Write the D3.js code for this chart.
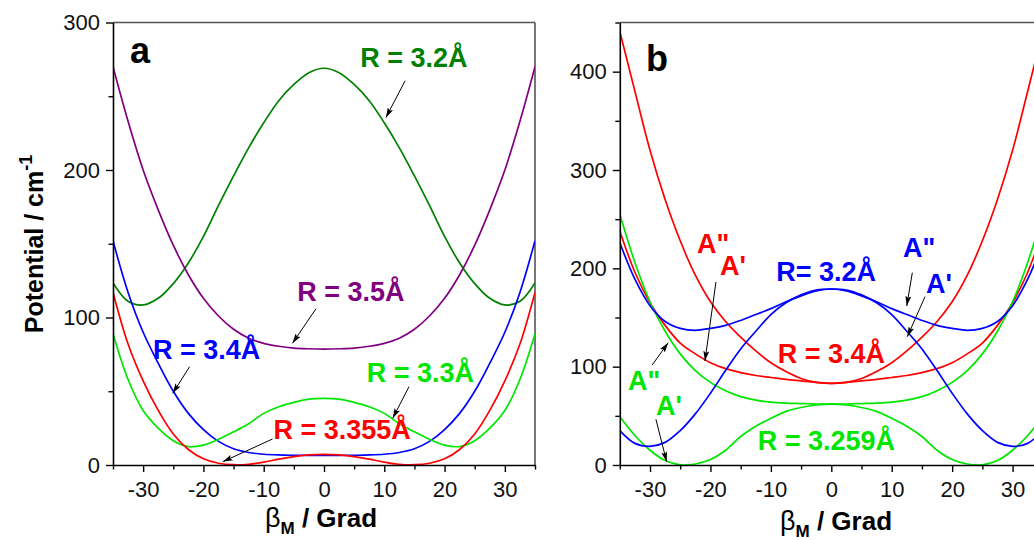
<!DOCTYPE html>
<html>
<head>
<meta charset="utf-8">
<script src="https://cdn.jsdelivr.net/npm/d3@7"></script>
<style>
  body { margin: 0; background: #fff; }
  svg { display: block; }
  text { font-family: "Liberation Sans", Arial, Helvetica, sans-serif; }
</style>
</head>
<body>
<svg id="chart" width="1034" height="540"></svg>
<script>
// Torsion angle grid (degrees)
const beta = [-35, -32.5, -30, -27.5, -25, -22.5, -20, -17.5, -15, -12.5, -10, -7.5, -5, -2.5, 0,
              2.5, 5, 7.5, 10, 12.5, 15, 17.5, 20, 22.5, 25, 27.5, 30, 32.5, 35];

// Panel a: potential curves (cm^-1) for several R
const aR320 = [123.5, 111, 108.5, 113, 123, 137, 155, 176, 196, 215, 232, 247, 258, 266, 269,
               266, 258, 247, 232, 215, 196, 176, 155, 137, 123, 113, 108.5, 111, 123.5];
const aR350 = [270, 233, 200, 173, 149, 129, 113, 101, 92, 86, 82.5, 80.5, 79.3, 78.8, 78.6,
               78.8, 79.3, 80.5, 82.5, 86, 92, 101, 113, 129, 149, 173, 200, 233, 270];
const aR340 = [152, 117, 90, 69, 50, 35, 24, 16, 11, 8.5, 7.3, 6.8, 6.6, 6.5, 6.5,
               6.5, 6.6, 6.8, 7.3, 8.5, 11, 16, 24, 35, 50, 69, 90, 117, 152];
const aR330 = [89, 58, 37, 25, 16.5, 12.5, 13.5, 17.5, 22.5, 28, 35, 39.5, 42.5, 44.7, 45.2,
               44.7, 42.5, 39.5, 35, 28, 22.5, 17.5, 13.5, 12.5, 16.5, 25, 37, 58, 89];
const aR3355 = [117, 82, 57, 37, 21, 10.5, 4.2, 1.2, 0.2, 0.5, 2, 4, 5.7, 6.8, 7.2,
                6.8, 5.7, 4, 2, 0.5, 0.2, 1.2, 4.2, 10.5, 21, 37, 57, 82, 117];

// Panel b: A' and A'' states
const bR340A2 = [441, 380, 320, 270, 228, 193, 166, 146, 130, 116, 104, 95, 88, 84, 83,
                 84, 88, 95, 104, 116, 130, 146, 166, 193, 228, 270, 320, 380, 441];
const bR340A1 = [238, 196, 165, 142, 124, 113, 104, 98, 94, 91, 89, 87, 85.5, 84, 83,
                 84, 85.5, 87, 89, 91, 94, 98, 104, 113, 124, 142, 165, 196, 238];
const bR320A2 = [226, 189, 162, 146, 139, 137, 139, 142, 147, 153, 159, 166, 172, 177, 179,
                 177, 172, 166, 159, 153, 147, 142, 139, 137, 139, 146, 162, 189, 226];
const bR320A1 = [35, 22, 19, 23, 35, 52, 73, 96, 118, 136, 153, 165, 173, 178, 179,
                 178, 173, 165, 153, 136, 118, 96, 73, 52, 35, 23, 19, 22, 35];
const bR3259A2 = [255, 206, 166, 136, 113, 96, 84, 75.5, 69.5, 66, 64, 63, 62.5, 62, 62,
                  62, 62.5, 63, 64, 66, 69.5, 75.5, 84, 96, 113, 136, 166, 206, 255];
const bR3259A1 = [49, 30, 15, 4.5, 0.2, 1, 5.5, 15, 29, 39.5, 47.5, 54.5, 58.5, 61, 62,
                  61, 58.5, 54.5, 47.5, 39.5, 29, 15, 5.5, 1, 0.2, 4.5, 15, 30, 49];

// Tick values
const xTicks = [-30, -20, -10, 0, 10, 20, 30];
const xMinor = [-35, -25, -15, -5, 5, 15, 25, 35];
const yTicksA = [0, 100, 200, 300];
const yMinorA = [50, 150, 250];
const yTicksB = [0, 100, 200, 300, 400];
const yMinorB = [50, 150, 250, 350, 450];

// Series tables
const seriesA = [
  { values: aR320, color: "#008000" },
  { values: aR350, color: "#800080" },
  { values: aR340, color: "#0000ff" },
  { values: aR330, color: "#00e600" },
  { values: aR3355, color: "#ff0000" }
];
const seriesB = [
  { values: bR340A2, color: "#ff0000" },
  { values: bR340A1, color: "#ff0000" },
  { values: bR3259A2, color: "#00e600" },
  { values: bR3259A1, color: "#00e600" },
  { values: bR320A2, color: "#0000ff" },
  { values: bR320A1, color: "#0000ff" }
];

// Labels: [text, colour, beta, value, anchor]
const labelsA = [
  ["R = 3.2Å", "#008000", 6.0, 270, "start"],
  ["R = 3.5Å", "#800080", -4.45, 111.2, "start"],
  ["R = 3.4Å", "#0000ff", -28.38, 71.7, "start"],
  ["R = 3.3Å", "#00e600", 7.1, 56.5, "start"],
  ["R = 3.355Å", "#ff0000", -8.38, 17.4, "start"]
];
const labelsB = [
  ["R= 3.2Å", "#0000ff", 7.4, 187.1, "end"],
  ["R = 3.4Å", "#ff0000", 8.89, 103.4, "end"],
  ["R = 3.259Å", "#00e600", 10.55, 15.3, "end"],
  ["A\"", "#0000ff", 11.87, 211.2, "start"],
  ["A'", "#0000ff", 15.68, 175.2, "start"],
  ["A\"", "#ff0000", -22.24, 215.6, "start"],
  ["A'", "#ff0000", -18.43, 193.2, "start"],
  ["A\"", "#00e600", -33.66, 76.3, "start"],
  ["A'", "#00e600", -29.02, 50.8, "start"]
];
// Arrows: [fromBeta, fromValue, toBeta, toValue]
const arrowsA = [
  [13.46, 260.5, 10.26, 235.5],
  [-1.35, 105.8, -5.23, 82.5],
  [-22.3, 66.6, -25.1, 48.6],
  [14.1, 53.1, 11.4, 31.7],
  [-8.55, 17.6, -16.8, 2.2]
];
const arrowsB = [
  [13.41, 195.6, 12.48, 161.7],
  [15.51, 171.2, 12.58, 130.5],
  [-19.09, 186.1, -20.91, 105.8],
  [-29.64, 101.7, -26.99, 124.4],
  [-29.02, 46.5, -27.25, 3.4]
];

const svg = d3.select("#chart");
const defs = svg.append("defs");
defs.append("marker")
  .attr("id", "head")
  .attr("viewBox", "0 0 10 6")
  .attr("refX", 10).attr("refY", 3)
  .attr("markerWidth", 10).attr("markerHeight", 6)
  .attr("markerUnits", "userSpaceOnUse")
  .attr("orient", "auto")
  .append("path").attr("d", "M0,0 L10,3 L0,6 L2,3 Z").attr("fill", "#000");

const plainNum = d => String(d);

function drawPanel(cfg) {
  const x = d3.scaleLinear().domain([-35, 35]).range(cfg.xRange);
  const y = d3.scaleLinear().domain(cfg.yDomain).range([465, 22.5]);
  const g = svg.append("g");
  const clipId = "clip-" + cfg.name;
  defs.append("clipPath").attr("id", clipId)
    .append("rect")
    .attr("x", cfg.xRange[0]).attr("y", 22.5)
    .attr("width", cfg.xRange[1] - cfg.xRange[0]).attr("height", 465 - 22.5);

  // frame: top and right
  g.append("line").attr("x1", cfg.xRange[0]).attr("x2", cfg.xRange[1])
    .attr("y1", 22.5).attr("y2", 22.5).attr("stroke", "#555").attr("stroke-width", 1.6);
  g.append("line").attr("x1", cfg.xRange[1]).attr("x2", cfg.xRange[1])
    .attr("y1", 22.5).attr("y2", 465).attr("stroke", "#555").attr("stroke-width", 1.6);

  // curves
  const line = d3.line()
    .x((d, i) => x(beta[i]))
    .y(d => y(d))
    .curve(d3.curveCatmullRom.alpha(0.5));
  g.append("g").attr("clip-path", `url(#${clipId})`)
    .selectAll("path").data(cfg.series).join("path")
    .attr("d", s => line(s.values))
    .attr("fill", "none")
    .attr("stroke", s => s.color)
    .attr("stroke-width", 1.7);

  // axes
  g.append("g").attr("transform", "translate(0,465)")
    .call(d3.axisBottom(x).tickValues(xTicks).tickFormat(plainNum)
      .tickSize(7).tickPadding(9).tickSizeOuter(0));
  g.append("g").attr("transform", "translate(0,465)")
    .call(d3.axisBottom(x).tickValues(xMinor).tickSize(4.5).tickFormat("").tickSizeOuter(0))
    .call(a => a.select(".domain").remove());
  g.append("g").attr("transform", `translate(${cfg.xRange[0]},0)`)
    .call(d3.axisLeft(y).tickValues(cfg.yTicks).tickFormat(plainNum)
      .tickSize(7).tickPadding(6).tickSizeOuter(0));
  g.append("g").attr("transform", `translate(${cfg.xRange[0]},0)`)
    .call(d3.axisLeft(y).tickValues(cfg.yMinor).tickSize(4.5).tickFormat("").tickSizeOuter(0))
    .call(a => a.select(".domain").remove());
  g.selectAll(".domain").attr("stroke", "#000").attr("stroke-width", 1.6);
  g.selectAll(".tick line").attr("stroke", "#000").attr("stroke-width", 1.4);
  g.selectAll(".tick text").attr("font-size", 22).attr("fill", "#111")
    .style("font-family", "'Liberation Sans', Arial, sans-serif");

  // panel letter
  g.append("text").attr("x", cfg.letterPos[0]).attr("y", cfg.letterPos[1])
    .attr("font-size", 36).attr("font-weight", "bold").text(cfg.name);

  // x title
  const xt = g.append("text").attr("x", cfg.xTitlePos[0]).attr("y", cfg.xTitlePos[1])
    .attr("font-size", 26).attr("font-weight", "bold");
  xt.append("tspan").attr("font-weight", "normal").attr("font-size", 27).text("β");
  xt.append("tspan").attr("font-size", 17).attr("dy", 7).text("M");
  xt.append("tspan").attr("dy", -7).text(" / Grad");

  // annotation arrows
  g.append("g").selectAll("line").data(cfg.arrows).join("line")
    .attr("x1", d => x(d[0])).attr("y1", d => y(d[1]))
    .attr("x2", d => x(d[2])).attr("y2", d => y(d[3]))
    .attr("stroke", "#000").attr("stroke-width", 1)
    .attr("marker-end", "url(#head)");

  // annotation labels
  g.append("g").selectAll("text").data(cfg.labels).join("text")
    .attr("x", d => x(d[2])).attr("y", d => y(d[3]))
    .attr("text-anchor", d => d[4])
    .attr("fill", d => d[1])
    .attr("font-size", 27).attr("font-weight", "bold")
    .text(d => d[0]);
}

drawPanel({
  name: "a", xRange: [113, 535], yDomain: [0, 300],
  yTicks: yTicksA, yMinor: yMinorA, series: seriesA,
  labels: labelsA, arrows: arrowsA,
  letterPos: [130, 63], xTitlePos: [265, 527]
});
drawPanel({
  name: "b", xRange: [619.8, 1042.8], yDomain: [0, 450],
  yTicks: yTicksB, yMinor: yMinorB, series: seriesB,
  labels: labelsB, arrows: arrowsB,
  letterPos: [646, 71], xTitlePos: [780, 530]
});

// y-axis title of panel a
const yt = svg.append("text")
  .attr("transform", "translate(43,244) rotate(-90)")
  .attr("text-anchor", "middle")
  .attr("font-size", 25).attr("font-weight", "bold");
yt.append("tspan").text("Potential / cm");
yt.append("tspan").attr("font-size", 18).attr("dy", -11).text("-1");
</script>
</body>
</html>
